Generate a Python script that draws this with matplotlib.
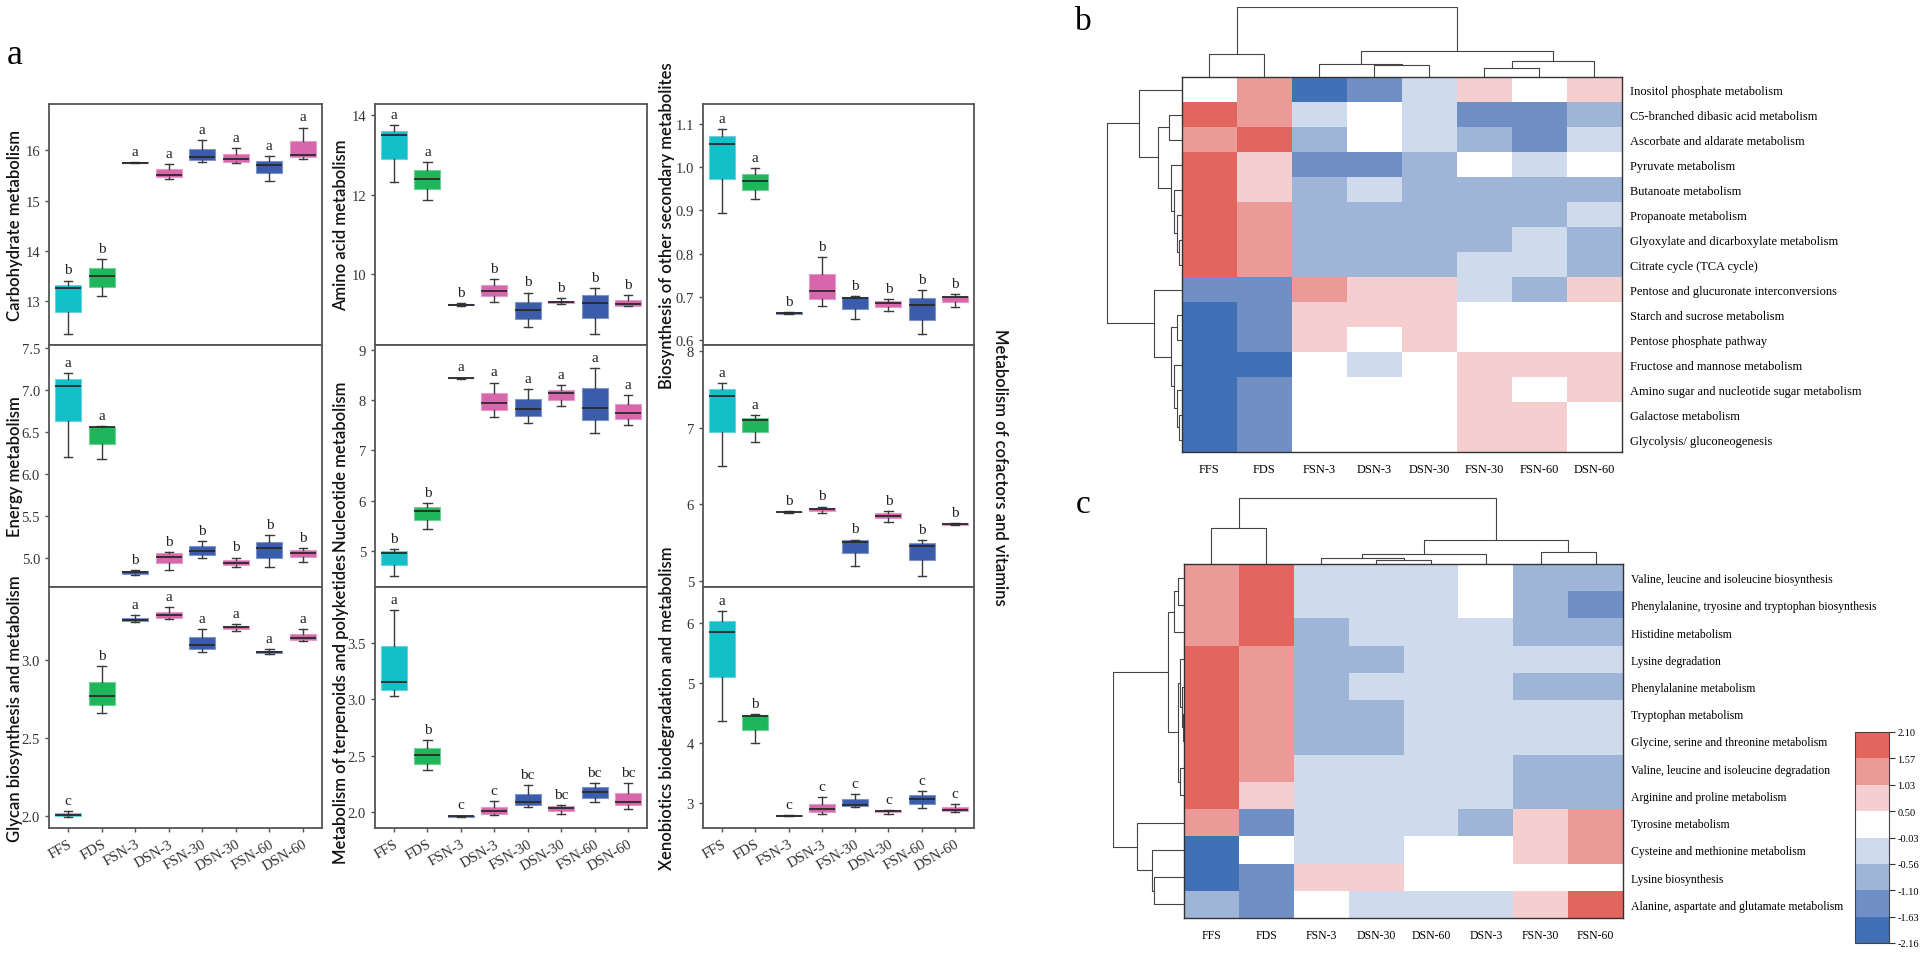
import numpy as np
import matplotlib
matplotlib.use("Agg")
import matplotlib.pyplot as plt
from matplotlib.colors import ListedColormap, BoundaryNorm

# ---------------- data: panel a (box statistics: low whisker, q1, median, q3, high whisker)
groups = ["FFS", "FDS", "FSN-3", "DSN-3", "FSN-30", "DSN-30", "FSN-60", "DSN-60"]

carbohydrate = [(12.35, 12.79, 13.26, 13.33, 13.41), (13.10, 13.29, 13.50, 13.66, 13.84),
                (15.74, 15.745, 15.755, 15.765, 15.77), (15.43, 15.47, 15.51, 15.62, 15.72),
                (15.76, 15.81, 15.86, 16.03, 16.21), (15.74, 15.76, 15.82, 15.92, 16.05),
                (15.39, 15.55, 15.71, 15.79, 15.88), (15.83, 15.87, 15.91, 16.18, 16.45)]
carbohydrate_sig = ["b", "b", "a", "a", "a", "a", "a", "a"]

energy = [(6.20, 6.62, 7.04, 7.13, 7.20), (6.17, 6.35, 6.55, 6.56, 6.565),
          (4.79, 4.81, 4.83, 4.84, 4.85), (4.85, 4.93, 5.01, 5.05, 5.07),
          (4.99, 5.03, 5.08, 5.14, 5.20), (4.89, 4.91, 4.94, 4.97, 5.00),
          (4.89, 5.00, 5.11, 5.18, 5.27), (4.95, 5.01, 5.06, 5.09, 5.11)]
energy_sig = ["a", "a", "b", "b", "b", "b", "b", "b"]

glycan = [(1.99, 1.996, 2.006, 2.017, 2.03), (2.66, 2.71, 2.77, 2.86, 2.96),
          (3.245, 3.25, 3.26, 3.27, 3.29), (3.265, 3.27, 3.29, 3.31, 3.34),
          (3.05, 3.07, 3.10, 3.15, 3.20), (3.19, 3.20, 3.21, 3.22, 3.23),
          (3.04, 3.045, 3.05, 3.06, 3.07), (3.12, 3.13, 3.145, 3.17, 3.20)]
glycan_sig = ["c", "b", "a", "a", "a", "a", "a", "a"]

amino_acid = [(12.32, 12.90, 13.50, 13.61, 13.74), (11.87, 12.13, 12.39, 12.61, 12.82),
              (9.20, 9.215, 9.23, 9.245, 9.26), (9.29, 9.44, 9.58, 9.73, 9.88),
              (8.67, 8.87, 9.08, 9.30, 9.53), (9.24, 9.26, 9.29, 9.33, 9.39),
              (8.49, 8.89, 9.28, 9.46, 9.65), (9.19, 9.20, 9.25, 9.34, 9.46)]
amino_acid_sig = ["a", "a", "b", "b", "b", "b", "b", "b"]

nucleotide = [(4.49, 4.72, 4.96, 5.00, 5.04), (5.44, 5.61, 5.80, 5.87, 5.95),
              (8.43, 8.435, 8.44, 8.445, 8.45), (7.66, 7.80, 7.95, 8.15, 8.35),
              (7.55, 7.68, 7.83, 8.02, 8.22), (7.88, 8.00, 8.14, 8.21, 8.30),
              (7.35, 7.60, 7.85, 8.24, 8.64), (7.51, 7.62, 7.74, 7.92, 8.11)]
nucleotide_sig = ["b", "b", "a", "a", "a", "a", "a", "a"]

terpenoids = [(3.03, 3.08, 3.15, 3.47, 3.79), (2.37, 2.43, 2.51, 2.57, 2.64),
              (1.955, 1.958, 1.962, 1.966, 1.97), (1.976, 1.985, 2.01, 2.05, 2.10),
              (2.05, 2.06, 2.09, 2.16, 2.24), (1.98, 2.015, 2.04, 2.055, 2.06),
              (2.09, 2.13, 2.18, 2.22, 2.26), (2.03, 2.06, 2.09, 2.17, 2.26)]
terpenoids_sig = ["a", "b", "c", "c", "bc", "bc", "bc", "bc"]

secondary = [(0.894, 0.971, 1.052, 1.071, 1.088), (0.925, 0.946, 0.968, 0.983, 0.997),
             (0.660, 0.661, 0.662, 0.664, 0.665), (0.679, 0.696, 0.714, 0.753, 0.792),
             (0.649, 0.672, 0.697, 0.700, 0.702), (0.667, 0.676, 0.686, 0.690, 0.694),
             (0.614, 0.647, 0.681, 0.698, 0.716), (0.676, 0.688, 0.700, 0.703, 0.706)]
secondary_sig = ["a", "a", "b", "b", "b", "b", "b", "b"]

cofactors = [(6.50, 6.95, 7.41, 7.50, 7.58), (6.81, 6.95, 7.10, 7.13, 7.17),
             (5.89, 5.895, 5.90, 5.905, 5.91), (5.88, 5.91, 5.94, 5.955, 5.97),
             (5.19, 5.36, 5.51, 5.53, 5.54), (5.77, 5.82, 5.85, 5.88, 5.91),
             (5.07, 5.27, 5.46, 5.49, 5.53), (5.725, 5.735, 5.745, 5.75, 5.76)]
cofactors_sig = ["a", "a", "b", "b", "b", "b", "b", "b"]

xenobiotics = [(4.36, 5.10, 5.85, 6.02, 6.19), (4.00, 4.22, 4.45, 4.47, 4.48),
               (2.785, 2.79, 2.795, 2.80, 2.805), (2.82, 2.86, 2.91, 2.99, 3.10),
               (2.94, 2.95, 2.97, 3.07, 3.15), (2.83, 2.85, 2.87, 2.885, 2.89),
               (2.92, 2.99, 3.07, 3.13, 3.20), (2.86, 2.87, 2.89, 2.94, 2.99)]
xenobiotics_sig = ["a", "b", "c", "c", "c", "c", "c", "c"]

# ---------------- data: heatmaps
heat_b_cols = ["FFS", "FDS", "FSN-3", "DSN-3", "DSN-30", "FSN-30", "FSN-60", "DSN-60"]
heat_b_rows = ["Inositol phosphate metabolism", "C5-branched dibasic acid metabolism",
               "Ascorbate and aldarate metabolism", "Pyruvate metabolism", "Butanoate metabolism",
               "Propanoate metabolism", "Glyoxylate and dicarboxylate metabolism",
               "Citrate cycle (TCA cycle)", "Pentose and glucuronate interconversions",
               "Starch and sucrose metabolism", "Pentose phosphate pathway",
               "Fructose and mannose metabolism", "Amino sugar and nucleotide sugar metabolism",
               "Galactose metabolism", "Glycolysis/ gluconeogenesis"]
heat_b_values = [
    [0.2, 1.3, -1.9, -1.36, -0.3, 0.76, 0.2, 0.76],
    [1.85, 1.3, -0.3, 0.2, -0.3, -1.36, -1.36, -0.83],
    [1.3, 1.85, -0.83, 0.2, -0.3, -0.83, -1.36, -0.3],
    [1.85, 0.76, -1.36, -1.36, -0.83, 0.2, -0.3, 0.2],
    [1.85, 0.76, -0.83, -0.3, -0.83, -0.83, -0.83, -0.83],
    [1.85, 1.3, -0.83, -0.83, -0.83, -0.83, -0.83, -0.3],
    [1.85, 1.3, -0.83, -0.83, -0.83, -0.83, -0.3, -0.83],
    [1.85, 1.3, -0.83, -0.83, -0.83, -0.3, -0.3, -0.83],
    [-1.36, -1.36, 1.3, 0.76, 0.76, -0.3, -0.83, 0.76],
    [-1.9, -1.36, 0.76, 0.76, 0.76, 0.2, 0.2, 0.2],
    [-1.9, -1.36, 0.76, 0.2, 0.76, 0.2, 0.2, 0.2],
    [-1.9, -1.9, 0.2, -0.3, 0.2, 0.76, 0.76, 0.76],
    [-1.9, -1.36, 0.2, 0.2, 0.2, 0.76, 0.2, 0.76],
    [-1.9, -1.36, 0.2, 0.2, 0.2, 0.76, 0.76, 0.2],
    [-1.9, -1.36, 0.2, 0.2, 0.2, 0.76, 0.76, 0.2],
]
# dendrogram merges (child a, child b, distance), scipy-style numbering
heat_b_col_tree = [(3, 4, 12), (2, 8, 13), (5, 6, 9), (10, 7, 16), (9, 11, 26), (0, 1, 23), (13, 12, 70)]
heat_b_row_tree = [(6, 7, 3), (5, 15, 5), (4, 16, 8), (3, 17, 11), (1, 2, 13), (19, 18, 24),
                   (0, 20, 43), (13, 14, 3), (12, 22, 5), (11, 23, 8), (9, 10, 5), (25, 24, 11),
                   (8, 26, 28), (21, 27, 75)]

heat_c_cols = ["FFS", "FDS", "FSN-3", "DSN-30", "DSN-60", "DSN-3", "FSN-30", "FSN-60"]
heat_c_rows = ["Valine, leucine and isoleucine biosynthesis",
               "Phenylalanine, tryosine and tryptophan biosynthesis", "Histidine metabolism",
               "Lysine degradation", "Phenylalanine metabolism", "Tryptophan metabolism",
               "Glycine, serine and threonine metabolism", "Valine, leucine and isoleucine degradation",
               "Arginine and proline metabolism", "Tyrosine metabolism",
               "Cysteine and methionine metabolism", "Lysine biosynthesis",
               "Alanine, aspartate and glutamate metabolism"]
heat_c_values = [
    [1.3, 1.85, -0.3, -0.3, -0.3, 0.2, -0.83, -0.83],
    [1.3, 1.85, -0.3, -0.3, -0.3, 0.2, -0.83, -1.36],
    [1.3, 1.85, -0.83, -0.3, -0.3, -0.3, -0.83, -0.83],
    [1.85, 1.3, -0.83, -0.83, -0.3, -0.3, -0.3, -0.3],
    [1.85, 1.3, -0.83, -0.3, -0.3, -0.3, -0.83, -0.83],
    [1.85, 1.3, -0.83, -0.83, -0.3, -0.3, -0.3, -0.3],
    [1.85, 1.3, -0.83, -0.83, -0.3, -0.3, -0.3, -0.3],
    [1.85, 1.3, -0.3, -0.3, -0.3, -0.3, -0.83, -0.83],
    [1.85, 0.76, -0.3, -0.3, -0.3, -0.3, -0.83, -0.83],
    [1.3, -1.36, -0.3, -0.3, -0.3, -0.83, 0.76, 1.3],
    [-1.9, 0.2, -0.3, -0.3, 0.2, 0.2, 0.76, 1.3],
    [-1.9, -1.36, 0.76, 0.76, 0.2, 0.2, 0.2, 0.2],
    [-0.83, -1.36, 0.2, -0.3, -0.3, -0.3, 0.76, 1.85],
]
heat_c_col_tree = [(3, 4, 4), (2, 8, 6), (9, 5, 10), (6, 7, 12), (10, 11, 24), (0, 1, 36), (13, 12, 66)]
heat_c_row_tree = [(0, 1, 6), (13, 2, 10), (5, 6, 1), (4, 15, 2), (3, 16, 4), (7, 8, 4), (17, 18, 6),
                   (14, 19, 16), (11, 12, 30), (10, 21, 32), (9, 22, 47), (20, 23, 71)]

color_bounds = [-2.16, -1.63, -1.10, -0.56, -0.03, 0.50, 1.03, 1.57, 2.10]

# ---------------- styling
W, H = 1924, 954
fig = plt.figure(figsize=(W / 100, H / 100), dpi=100)
SERIF = "Liberation Serif"
SANS = "Lato"


def px_axes(l, t, r, b):
    return fig.add_axes([l / W, 1 - b / H, (r - l) / W, (b - t) / H])


def lighten(c, f):
    c = np.array(matplotlib.colors.to_rgb(c))
    return tuple(c + (1 - c) * f)


group_colors = ["#13BFC8", "#1FB65B", "#3A5CAA", "#D766AA"]
box_colors = [group_colors[0], group_colors[1]] + [group_colors[2], group_colors[3]] * 3

col_x = [(49, 322), (375, 647), (703, 974)]
row_y = [(105, 346), (346, 588), (588, 829)]

panels = [
    (0, 0, carbohydrate, carbohydrate_sig, "Carbohydrate metabolism", (12.13, 16.92), [13, 14, 15, 16], "{:.0f}"),
    (1, 0, energy, energy_sig, "Energy metabolism", (4.65, 7.53), [5.0, 5.5, 6.0, 6.5, 7.0, 7.5], "{:.1f}"),
    (2, 0, glycan, glycan_sig, "Glycan biosynthesis and metabolism", (1.92, 3.47), [2.0, 2.5, 3.0], "{:.1f}"),
    (0, 1, amino_acid, amino_acid_sig, "Amino acid metabolism", (8.21, 14.28), [10, 12, 14], "{:.0f}"),
    (1, 1, nucleotide, nucleotide_sig, "Nucleotide metabolism", (4.28, 9.10), [5, 6, 7, 8, 9], "{:.0f}"),
    (2, 1, terpenoids, terpenoids_sig, "Metabolism of terpenoids and polyketides", (1.86, 3.995), [2.0, 2.5, 3.0, 3.5], "{:.1f}"),
    (0, 2, secondary, secondary_sig, "Biosynthesis of other secondary metabolites", (0.589, 1.145), [0.6, 0.7, 0.8, 0.9, 1.0, 1.1], "{:.1f}"),
    (1, 2, cofactors, cofactors_sig, "Metabolism of cofactors and vitamins", (4.92, 8.08), [5, 6, 7, 8], "{:.0f}"),
    (2, 2, xenobiotics, xenobiotics_sig, "Xenobiotics biodegradation and metabolism", (2.59, 6.59), [3, 4, 5, 6], "{:.0f}"),
]
ylabel_x = [15, 341, 667]

for r, c, stats_list, sig, label, ylim, ticks, fmt in panels:
    l, rr = col_x[c]
    t, b = row_y[r]
    ax = px_axes(l, t, rr, b)
    positions = np.arange(1, len(groups) + 1)
    stats = [dict(whislo=s[0], q1=s[1], med=s[2], q3=s[3], whishi=s[4], fliers=[]) for s in stats_list]
    bp = ax.bxp(stats, positions=positions, widths=0.78, patch_artist=True, showfliers=False,
                capwidths=0.25,
                medianprops=dict(color="#2a2a2a", lw=1.3),
                whiskerprops=dict(color="#3a3a3a", lw=1.0),
                capprops=dict(color="#3a3a3a", lw=1.0))
    for patch, col in zip(bp["boxes"], box_colors):
        patch.set_facecolor(col)
        patch.set_edgecolor(lighten(col, 0.35))
        patch.set_linewidth(0.8)
    for p, s, lab in zip(positions, stats_list, sig):
        ax.annotate(lab, (p, s[4]), xytext=(0, 3), textcoords="offset points",
                    ha="center", va="bottom", fontsize=11, family=SERIF, color="#222")
    ax.set_xlim(0.43, 8.57)
    ax.set_ylim(*ylim)
    ax.set_yticks(ticks)
    ax.set_yticklabels([fmt.format(v) for v in ticks])
    ax.set_xticks(positions)
    for sp in ax.spines.values():
        sp.set_color("#555555")
        sp.set_linewidth(1.3)
    ax.tick_params(direction="out", length=3, width=1, color="#555555",
                   labelsize=10.5, labelcolor="#333333")
    for tl in ax.get_yticklabels():
        tl.set_family(SERIF)
    if r == 2:
        ax.set_xticklabels(groups, rotation=30, ha="right", rotation_mode="anchor",
                           family=SERIF, fontsize=10.5, color="#333333")
    else:
        ax.set_xticklabels([])
    # y label
    yc = (t + b) / 2
    if r == 1 and c == 2:
        fig.text(1000 / W, 1 - yc / H, label, rotation=-90, ha="center", va="center",
                 fontsize=12, family=SANS, fontweight="semibold", color="#111")
    else:
        fig.text(ylabel_x[c] / W, 1 - yc / H, label, rotation=90, ha="center", va="center",
                 fontsize=12, family=SANS, fontweight="semibold", color="#111")

fig.text(15 / W, 1 - 55 / H, "a", fontsize=26, family=SERIF, ha="center", va="center")

# ---------------- heatmaps
cmap = ListedColormap(["#4270B6", "#7090C5", "#9EB5D8", "#CFDAEC", "#FFFFFF",
                       "#F5CFCF", "#EC9A97", "#E3665E"])
norm = BoundaryNorm(color_bounds, cmap.N)


def dendro_segments(tree, n):
    pos = {i: i + 0.5 for i in range(n)}
    hgt = {i: 0.0 for i in range(n)}
    segs = []
    for k, (a, b, h) in enumerate(tree):
        node = n + k
        segs.append(([pos[a], pos[a], pos[b], pos[b]], [hgt[a], h, h, hgt[b]]))
        pos[node] = (pos[a] + pos[b]) / 2
        hgt[node] = h
    return segs


def heat_panel(values, rows, cols, col_tree, row_tree, hx0, hx1, hy0, hy1, dtop, dleft, fs):
    vals = np.array(values)
    nr, nc = vals.shape
    ax = px_axes(hx0, hy0, hx1, hy1)
    ax.pcolormesh(np.arange(nc + 1), np.arange(nr + 1), vals, cmap=cmap, norm=norm)
    ax.set_xlim(0, nc)
    ax.set_ylim(nr, 0)
    ax.yaxis.tick_right()
    ax.set_yticks(np.arange(nr) + 0.5)
    ax.set_yticklabels(rows, family=SERIF, fontsize=fs)
    ax.set_xticks(np.arange(nc) + 0.5)
    ax.set_xticklabels(cols, family=SERIF, fontsize=fs)
    ax.tick_params(length=0, pad=6)
    ax.tick_params(axis="x", pad=8)
    for sp in ax.spines.values():
        sp.set_color("#333333")
        sp.set_linewidth(1.0)
    # column dendrogram
    axd = px_axes(hx0, dtop, hx1, hy0)
    for xs, ys in dendro_segments(col_tree, nc):
        axd.plot(xs, ys, color="#444444", lw=0.8)
    axd.set_xlim(0, nc)
    axd.set_ylim(0, col_tree[-1][2] + 0.5)
    axd.axis("off")
    # row dendrogram
    axr = px_axes(dleft, hy0, hx0, hy1)
    for ys, xs in dendro_segments(row_tree, nr):
        axr.plot(xs, ys, color="#444444", lw=0.8)
    axr.set_ylim(nr, 0)
    axr.set_xlim(row_tree[-1][2] + 0.5, 0)
    axr.axis("off")


heat_panel(heat_b_values, heat_b_rows, heat_b_cols, heat_b_col_tree, heat_b_row_tree,
           1182, 1622, 78, 453, 8, 1106, 8.9)
heat_panel(heat_c_values, heat_c_rows, heat_c_cols, heat_c_col_tree, heat_c_row_tree,
           1184, 1623, 565, 919, 498, 1113, 8.5)

fig.text(1083 / W, 1 - 22 / H, "b", fontsize=24, family=SERIF, ha="center", va="center")
fig.text(1083 / W, 1 - 505 / H, "c", fontsize=24, family=SERIF, ha="center", va="center")

# colorbar
cax = px_axes(1855, 733, 1889, 944)
cb = fig.colorbar(matplotlib.cm.ScalarMappable(norm=norm, cmap=cmap), cax=cax,
                  ticks=color_bounds, spacing="uniform")
cb.ax.set_yticklabels(["{:.2f}".format(v) for v in color_bounds], family=SERIF, fontsize=7.5)
cb.ax.tick_params(length=4, width=0.8, color="#333333", pad=2)
cb.outline.set_edgecolor("#444444")
cb.outline.set_linewidth(0.8)

fig.savefig("out.png", dpi=100)
